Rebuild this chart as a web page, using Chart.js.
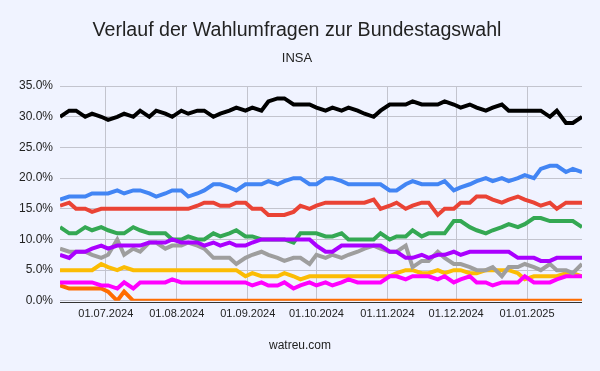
<!DOCTYPE html>
<html>
<head>
<meta charset="utf-8">
<script src="https://cdn.jsdelivr.net/npm/chart.js@4"></script>
<style>
  body { margin: 0; background: #f0f3ff; }
  .wrap { position: relative; width: 600px; height: 371px; }
  .footer { position: absolute; left: 0; top: 338px; width: 600px; text-align: center; font: 12px "Liberation Sans", Arial, sans-serif; color: #222; }
</style>
</head>
<body>
<div class="wrap">
  <canvas id="pollChart" width="600" height="371"></canvas>
  <div class="footer">watreu.com</div>
</div>
<script>
const dates = ['2024-06-11','2024-06-15','2024-06-18','2024-06-22','2024-06-25','2024-06-29',
  '2024-07-02','2024-07-06','2024-07-09','2024-07-13','2024-07-16','2024-07-20','2024-07-23','2024-07-27','2024-07-30',
  '2024-08-03','2024-08-06','2024-08-10','2024-08-13','2024-08-17','2024-08-20','2024-08-24','2024-08-27','2024-08-31',
  '2024-09-03','2024-09-07','2024-09-10','2024-09-14','2024-09-17','2024-09-21','2024-09-24','2024-09-28',
  '2024-10-01','2024-10-05','2024-10-08','2024-10-12','2024-10-15','2024-10-19','2024-10-22','2024-10-26','2024-10-29',
  '2024-11-02','2024-11-05','2024-11-09','2024-11-12','2024-11-16','2024-11-19','2024-11-23','2024-11-26','2024-11-30',
  '2024-12-03','2024-12-07','2024-12-10','2024-12-14','2024-12-17','2024-12-21','2024-12-24','2024-12-28','2024-12-31',
  '2025-01-04','2025-01-07','2025-01-11','2025-01-14','2025-01-18','2025-01-21','2025-01-25'];

const tickDates = ['2024-07-01','2024-08-01','2024-09-01','2024-10-01','2024-11-01','2024-12-01','2025-01-01'];

const cdu = [30,31,31,30,30.5,30,29.5,30,30.5,30,31,30,31,30.5,30,31,30.5,31,31,30,30.5,31,31.5,31,31.5,31,32.5,33,33,32,32,32,31.5,31,31.5,31,31.5,31,30.5,30,31,32,32,32,32.5,32,32,32,32.5,32,31.5,32,31.5,31,31.5,32,31,31,31,31,31,30,31,29,29,30];
const afd = [16.5,17,17,17,17.5,17.5,17.5,18,17.5,18,18,17.5,17,17.5,18,18,17,17.5,18,19,19,18.5,18,19,19,19,19.5,19,19.5,20,20,19,19,20,20,19.5,19,19,19,19,19,18,18,19,19.5,19,19,19,19.5,18,18.5,19,19.5,20,19.5,20,19.5,20,20.5,20,21.5,22,22,21,21.5,21];
const spd = [15.5,16,15,15,14.5,15,15,15,15,15,15,15,15,15,15,15,15,15.5,16,16,15.5,15.5,16,16,15,15,14,14,14,14.5,15.5,15,15.5,16,16,16,16,16,16,16.5,15,15.5,16,15,15.5,16,16,14,15,15,16,16,17,17,16.5,16,16.5,17,16.5,16,15.5,16,15,16,16,16];
const gruene = [12,11,11,12,11.5,12,11.5,11,11,12,11.5,11,11,11,10,10,10.5,10,10,11,10.5,11,11.5,10.5,10.5,10,10,10,10,9.5,11,11,11,10.5,10.5,11,10,10,10,10,11,10,10.5,10.5,11.5,10.5,11,11,11,13,13,12,11.5,11,11.5,12,12.5,12,12.5,13.5,13.5,13,13,13,13,12];
const bsw = [7.5,7,8,8,8.5,9,8.5,9,9,9,9,9.5,9.5,9.5,10,9.5,9.5,9.5,9,9.5,9,9.5,9,9,9.5,10,10,10,10,10,10,10,9,8,8,9,9,9,9,9,9,8,8,7,7,7.5,7,7.5,7.5,8,7.5,8,8,8,8,8,8,7,7,7,6.5,6.5,7,7,7,7];
const sonstige = [8.5,8,8,8,7.5,7,7.5,10,7.5,8.5,8,9.5,9.5,8.5,9,9,9.5,9,8.5,7,7,7,6,7,7.5,8,7.5,7,6.5,7,7,6,7.5,7,7.5,7,7.5,8,8.5,9,8.5,8,8,9,5.5,6.5,6.5,8,7,6,6,5.5,5,5,5.5,4,5.5,5.5,6,5.5,5,6,5,5,4.5,6];
const fdp = [5,5,5,5,5,6,5.5,5,5.5,5,5,5,5,5,5,5,5,5,5,5,5,5,5,4,4.5,4,4,4,4.5,4,3.5,4,4,4,4,4,4,4,4,4,4,4,4.5,5,5,4.5,4.5,5,4.5,5,5,4.5,4.5,5,5,5,5,4.5,3.5,4,4,4,4,4.5,4.5,4];
const linke = [3,3,3,3,3,2.5,2.5,2,3,2,3,3,3,3,3.5,3,3,3,3,3,3,3,3,3,2.5,3,2.5,2.5,3,2,2.5,3,2.5,3,2.5,3,3.5,3,3,3,3,4,4,3.5,4,4,4,3.5,4,3,3.5,4,3,3,2.5,3,3,3,4,3,3,3,3.5,4,4,4];
const fw = [2.5,2,2,2,2,2,1.5,0,1.5,0,0,0,0,0,0,0,0,0,0,0,0,0,0,0,0,0,0,0,0,0,0,0,0,0,0,0,0,0,0,0,0,0,0,0,0,0,0,0,0,0,0,0,0,0,0,0,0,0,0,0,0,0,0,0,0,0];

const DAY = 86400000;
const toDay = s => Date.parse(s + 'T00:00:00Z') / DAY;
const fmtDay = v => {
    const d = new Date(v * DAY);
    const dd = String(d.getUTCDate()).padStart(2, '0');
    const mm = String(d.getUTCMonth() + 1).padStart(2, '0');
    return dd + '.' + mm + '.' + d.getUTCFullYear();
};
const xs = dates.map(toDay);
const toPoints = arr => arr.map((v, i) => ({ x: xs[i], y: v }));

const line = (label, arr, color) => ({
    label: label,
    data: toPoints(arr),
    borderColor: color,
    backgroundColor: color,
    borderWidth: 4,
    pointRadius: 0,
    tension: 0,
    fill: false,
});

// dark zero line on top of the series, like the original
const baseline = {
    id: 'baseline',
    afterDatasetsDraw(chart) {
        const { ctx, chartArea, scales } = chart;
        const y = Math.round(scales.y.getPixelForValue(0)) + 1.5;
        ctx.save();
        ctx.strokeStyle = '#333';
        ctx.lineWidth = 1;
        ctx.beginPath();
        ctx.moveTo(chartArea.left, y);
        ctx.lineTo(chartArea.right, y);
        ctx.stroke();
        ctx.restore();
    }
};

const font = '"Liberation Sans", Arial, sans-serif';

new Chart(document.getElementById('pollChart'), {
    type: 'line',
    data: {
        datasets: [
            line('CDU/CSU', cdu, '#000000'),
            line('AfD', afd, '#4285f4'),
            line('SPD', spd, '#ea4335'),
            line('BSW', bsw, '#aa00ff'),
            line('Grüne', gruene, '#34a853'),
            line('Sonstige', sonstige, '#9e9e9e'),
            line('Linke', linke, '#ff00ff'),
            line('FDP', fdp, '#fbbc04'),
            line('FW', fw, '#ff6d01'),
        ]
    },
    plugins: [baseline],
    options: {
        responsive: false,
        animation: false,
        devicePixelRatio: 1,
        events: [],
        layout: { padding: { left: 12, right: 18, bottom: 43 } },
        plugins: {
            legend: { display: false },
            tooltip: { enabled: false },
            title: {
                display: true,
                text: 'Verlauf der Wahlumfragen zur Bundestagswahl',
                color: '#222',
                font: { family: font, size: 19.6, weight: 'normal' },
                padding: { top: 19, bottom: 8 }
            },
            subtitle: {
                display: true,
                text: 'INSA',
                color: '#222',
                font: { family: font, size: 13 },
                padding: { top: 0, bottom: 20 }
            }
        },
        scales: {
            x: {
                type: 'linear',
                min: xs[0],
                max: xs[xs.length - 1],
                border: { display: false },
                grid: { color: '#c3c4ce', drawTicks: false },
                afterBuildTicks: axis => { axis.ticks = tickDates.map(s => ({ value: toDay(s) })); },
                ticks: {
                    color: '#222',
                    padding: 7,
                    maxRotation: 0,
                    autoSkip: false,
                    font: { family: font, size: 11 },
                    callback: v => fmtDay(v)
                }
            },
            y: {
                min: 0,
                max: 35,
                border: { display: false },
                grid: { color: '#c3c4ce', drawTicks: false },
                ticks: {
                    stepSize: 5,
                    color: '#222',
                    padding: 7,
                    font: { family: font, size: 12 },
                    callback: v => v.toFixed(1) + '%'
                }
            }
        }
    }
});
</script>
</body>
</html>
